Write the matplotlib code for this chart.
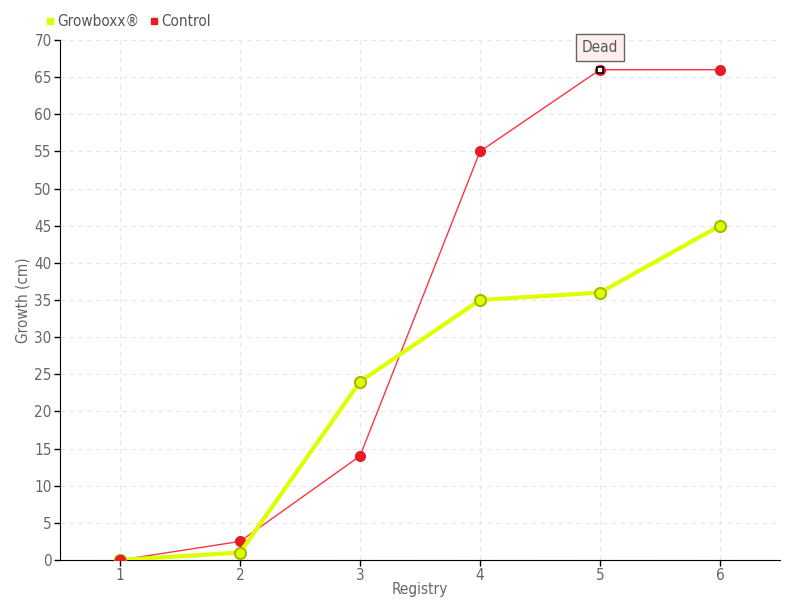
import matplotlib
matplotlib.use('Agg')
import matplotlib.pyplot as plt

# 데이터
registry = [1, 2, 3, 4, 5, 6]
growboxx = [0, 1, 24, 35, 36, 45]
control = [0, 2.5, 14, 55, 66, 66]
yticks = list(range(0, 75, 5))

plt.rcParams['font.family'] = ['DejaVu Sans']
plt.rcParams['font.stretch'] = 'condensed'

fig = plt.figure(figsize=(8, 6), dpi=100)
ax = fig.add_axes([60/800, 40/600, 720/800, 520/600])

ax.plot(registry, control, color='#ff3344', lw=1, zorder=3)
ax.plot(registry, control, 'o', color='#e81c24', ms=7, mec='#e81c24', zorder=4)
ax.plot(registry, growboxx, color='#ddff00', lw=3, zorder=5)
ax.plot(registry, growboxx, 'o', color='#ddff00', ms=8, mec='#a8b800', mew=1.5, zorder=6)
ax.plot(registry[:1], control[:1], 'o', color='#e81c24', ms=7, zorder=7)

# "Dead" 표시
ax.plot(registry[4], control[4], 's', color='white', mec='black', ms=5, mew=1.2, zorder=8)
ax.annotate('Dead', xy=(registry[4], control[4]), xytext=(0, 16), textcoords='offset points',
            ha='center', va='center', fontsize=11, color='#555555',
            bbox=dict(boxstyle='square,pad=0.4', fc='#ffeeee', ec='#666666', lw=1), zorder=9)

ax.set_xlim(0.5, 6.5)
ax.set_ylim(0, 70)
ax.set_xticks(registry)
ax.set_yticks(yticks)
ax.tick_params(axis='both', labelsize=11, labelcolor='#666666', direction='out', length=4, width=1, pad=2)
ax.grid(True, linestyle=(0, (4, 4)), color='#e6e6e6', lw=0.8)
ax.set_axisbelow(True)
for s in ['top', 'right']:
    ax.spines[s].set_visible(False)
ax.set_xlabel('Registry', fontsize=11, color='#666666', labelpad=-1)
ax.set_ylabel('Growth (cm)', fontsize=11, color='#666666', labelpad=3)

h1 = plt.Line2D([], [], marker='s', ls='', color='#ddff00', ms=5)
h2 = plt.Line2D([], [], marker='s', ls='', color='#e81c24', ms=5)
fig.legend([h1, h2], ['Growboxx®', 'Control'], loc='upper left', bbox_to_anchor=(44/800, 1 - 14/600),
           ncol=2, frameon=False, fontsize=11, handletextpad=0.1, columnspacing=0.5,
           handlelength=0.8, borderaxespad=0, borderpad=0, labelcolor='#555555')

plt.savefig('out.png')
